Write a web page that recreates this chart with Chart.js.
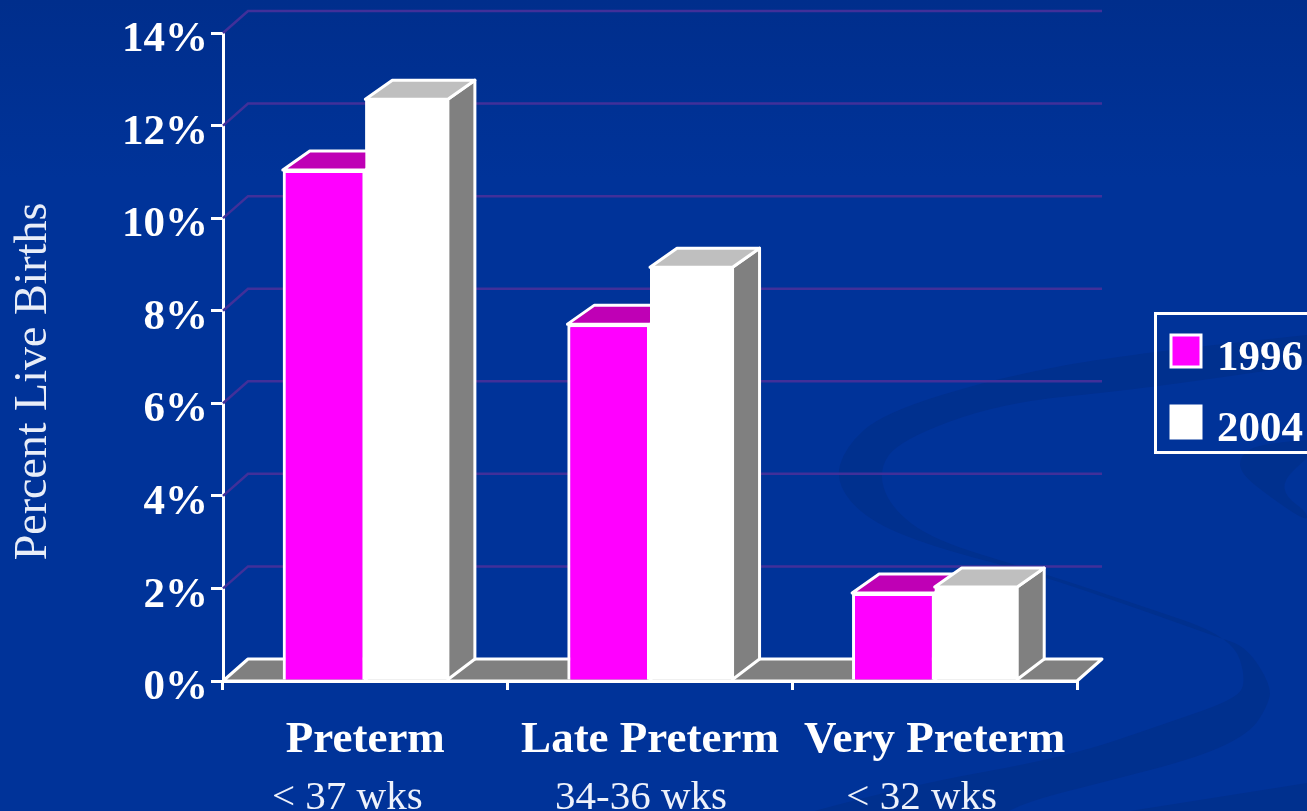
<!DOCTYPE html>
<html>
<head>
<meta charset="utf-8">
<title>Percent Live Births</title>
<script src="https://cdn.jsdelivr.net/npm/chart.js@4"></script>
<style>
  html, body { margin: 0; padding: 0; background: #003399; overflow: hidden; }
  canvas { display: block; }
</style>
</head>
<body>
<canvas id="chart" width="1307" height="811"></canvas>
<script>
const categories = ['Preterm', 'Late Preterm', 'Very Preterm'];
const subLabels = ['< 37 wks', '34-36 wks', '< 32 wks'];
const years = ['1996', '2004'];
const values1996 = [11.04, 7.71, 1.9];
const values2004 = [12.57, 8.94, 2.03];
const yTicks = [0, 2, 4, 6, 8, 10, 12, 14];
const axisTitle = 'Percent Live Births';

const WHITE = '#ffffff';
const SERIF = '"Liberation Serif", serif';
const LINE = 3;
const barDepth = { dx: 27, dy: -19 };
const floorDepth = { dx: 25, dy: -22 };
const subLabelShift = [-18, -9, -13];

// swirl in the slide background, outline points only
const swirlOuter = [[1307,335],[1133,353],[1000,377],[883,413],[845,447],[835,483],[867,520],[933,547],
  [1033,573],[1133,607],[1217,637],[1247,647],[1272,687],[1267,707],[1250,733],[1200,757],[1100,783],[1033,800],[1000,815]];
const swirlInner = [[800,815],[900,787],[1067,757],[1167,723],[1233,700],[1247,683],[1233,637],[1133,603],
  [1033,570],[933,540],[890,507],[878,470],[900,440],[1000,403],[1133,390],[1307,365]];
const swirlCurl = [[1307,440],[1262,443],[1240,455],[1240,473],[1270,497],[1307,522],[1307,512],[1286,497],[1283,480],[1307,458]];

function smoothPath(ctx, pts) {
  ctx.moveTo(pts[0][0], pts[0][1]);
  for (let i = 1; i < pts.length - 1; i++) {
    const mx = (pts[i][0] + pts[i + 1][0]) / 2;
    const my = (pts[i][1] + pts[i + 1][1]) / 2;
    ctx.quadraticCurveTo(pts[i][0], pts[i][1], mx, my);
  }
  const last = pts[pts.length - 1];
  ctx.lineTo(last[0], last[1]);
}

function poly(ctx, pts, fill) {
  ctx.beginPath();
  pts.forEach((p, i) => i ? ctx.lineTo(p[0], p[1]) : ctx.moveTo(p[0], p[1]));
  ctx.closePath();
  ctx.fillStyle = fill;
  ctx.fill();
  ctx.strokeStyle = WHITE;
  ctx.lineWidth = LINE;
  ctx.lineJoin = 'round';
  ctx.stroke();
}

const backgroundPlugin = {
  id: 'slideBackground',
  beforeDraw(chart) {
    const { ctx, width, height } = chart;
    ctx.save();
    const g = ctx.createLinearGradient(0, 0, 0, height);
    g.addColorStop(0, '#002e8c');
    g.addColorStop(0.22, '#003399');
    g.addColorStop(1, '#003399');
    ctx.fillStyle = g;
    ctx.fillRect(0, 0, width, height);
    ctx.fillStyle = '#00308e';
    ctx.beginPath();
    smoothPath(ctx, swirlOuter);
    ctx.lineTo(swirlInner[0][0], swirlInner[0][1]);
    const inner = swirlInner.slice(1);
    for (let i = 0; i < inner.length - 1; i++) {
      ctx.quadraticCurveTo(inner[i][0], inner[i][1], (inner[i][0] + inner[i + 1][0]) / 2, (inner[i][1] + inner[i + 1][1]) / 2);
    }
    ctx.lineTo(inner[inner.length - 1][0], inner[inner.length - 1][1]);
    ctx.closePath();
    ctx.fill();
    ctx.beginPath();
    smoothPath(ctx, swirlCurl);
    ctx.closePath();
    ctx.fill();
    ctx.beginPath();
    ctx.moveTo(1130, 811);
    ctx.lineTo(1307, 783);
    ctx.lineTo(1307, 811);
    ctx.closePath();
    ctx.fill();
    ctx.restore();
  }
};

const box3dPlugin = {
  id: 'box3d',
  afterUpdate(chart) {
    // tick labels sit a little under their tick marks
    chart.scales.y.getLabelItems(chart.chartArea).forEach(item => { item.options.translation[1] += 7; });
    chart.scales.x2.getLabelItems(chart.chartArea).forEach((item, i) => { item.options.translation[0] += subLabelShift[i]; });
  },
  beforeDatasetsDraw(chart) {
    const { ctx, chartArea, scales } = chart;
    ctx.save();
    // back wall lines
    ctx.strokeStyle = '#41309a';
    ctx.lineWidth = 2.5;
    yTicks.slice(1).forEach(v => {
      const py = scales.y.getPixelForValue(v);
      ctx.beginPath();
      ctx.moveTo(chartArea.left, py);
      ctx.lineTo(chartArea.left + floorDepth.dx, py + floorDepth.dy);
      ctx.lineTo(chartArea.right + floorDepth.dx, py + floorDepth.dy);
      ctx.stroke();
    });
    // floor
    const b = chartArea.bottom;
    poly(ctx, [
      [chartArea.left, b],
      [chartArea.left + floorDepth.dx, b + floorDepth.dy],
      [chartArea.right + floorDepth.dx, b + floorDepth.dy],
      [chartArea.right, b]
    ], '#808080');
    ctx.restore();
  },
  afterDatasetsDraw(chart) {
    const { ctx, chartArea } = chart;
    const floorY = chartArea.bottom + floorDepth.dy;
    const topColours = ['#bf00b5', '#bfbfbf'];
    ctx.save();
    chart.data.datasets.forEach((ds, i) => {
      const bars = chart.getDatasetMeta(i).data;
      bars.forEach(bar => {
        const left = bar.x - bar.width / 2;
        const right = bar.x + bar.width / 2;
        const top = bar.y;
        const { dx, dy } = barDepth;
        poly(ctx, [[right, top], [right + dx, top + dy], [right + dx, floorY], [right, bar.base]], '#808080');
        poly(ctx, [[left, top], [left + dx, top + dy], [right + dx, top + dy], [right, top]], topColours[i]);
        bar.draw(ctx);
      });
    });
    ctx.restore();
  },
  afterDraw(chart) {
    const { ctx } = chart;
    ctx.save();
    // y title sits lower than the middle of the axis
    ctx.translate(46, 381.5);
    ctx.rotate(-Math.PI / 2);
    ctx.font = '46px ' + SERIF;
    ctx.fillStyle = '#e8edf8';
    ctx.textAlign = 'center';
    ctx.textBaseline = 'alphabetic';
    ctx.fillText(axisTitle, 0, 0);
    ctx.restore();

    // legend box, runs off the right edge like the slide does
    ctx.save();
    ctx.strokeStyle = WHITE;
    ctx.lineWidth = LINE;
    ctx.strokeRect(1155.5, 313.5, 170, 139);
    ctx.font = 'bold 43px ' + SERIF;
    ctx.textBaseline = 'alphabetic';
    ctx.textAlign = 'left';
    chart.data.datasets.forEach((ds, i) => {
      const top = 335 + i * 71;
      ctx.fillStyle = ds.backgroundColor;
      ctx.fillRect(1171, top, 30, 32);
      ctx.strokeStyle = WHITE;
      ctx.lineWidth = LINE;
      ctx.strokeRect(1171, top, 30, 32);
      ctx.fillStyle = WHITE;
      ctx.fillText(ds.label, 1217, top + 35);
    });
    ctx.restore();
  }
};

new Chart(document.getElementById('chart'), {
  type: 'bar',
  data: {
    labels: categories,
    datasets: [
      { label: years[0], data: values1996, backgroundColor: '#ff00ff', borderColor: WHITE, borderWidth: LINE, borderSkipped: 'bottom' },
      { label: years[1], data: values2004, backgroundColor: '#ffffff', borderColor: WHITE, borderWidth: 0 }
    ]
  },
  options: {
    responsive: false,
    animation: false,
    events: [],
    layout: { padding: { left: 0, right: 230, top: 33, bottom: 0 } },
    categoryPercentage: 0.58,
    barPercentage: 1,
    plugins: { legend: { display: false }, tooltip: { enabled: false } },
    scales: {
      x: {
        offset: true,
        afterFit(scale) { scale.height = 82; },
        grid: { drawOnChartArea: false, offset: true, color: WHITE, lineWidth: LINE, tickLength: 9 },
        border: { color: WHITE, width: LINE },
        ticks: { color: WHITE, padding: 23, maxRotation: 0, autoSkip: false, font: { family: SERIF, size: 45, weight: 'bold' } }
      },
      x2: {
        type: 'category',
        labels: subLabels,
        offset: true,
        position: 'bottom',
        afterFit(scale) { scale.height = 48; },
        grid: { display: false },
        border: { display: false },
        ticks: { color: '#eef2fb', padding: 3, maxRotation: 0, autoSkip: false, font: { family: SERIF, size: 41 } }
      },
      y: {
        min: yTicks[0],
        max: yTicks[yTicks.length - 1],
        afterFit(scale) { scale.width = 223; },
        afterBuildTicks(scale) { scale.ticks = yTicks.map(v => ({ value: v })); },
        grid: { drawOnChartArea: false, color: WHITE, lineWidth: LINE, tickLength: 12 },
        border: { color: WHITE, width: LINE },
        ticks: { color: WHITE, padding: 3, callback: v => v + '%', font: { family: SERIF, size: 43, weight: 'bold' } }
      }
    }
  },
  plugins: [backgroundPlugin, box3dPlugin]
});
</script>
</body>
</html>
